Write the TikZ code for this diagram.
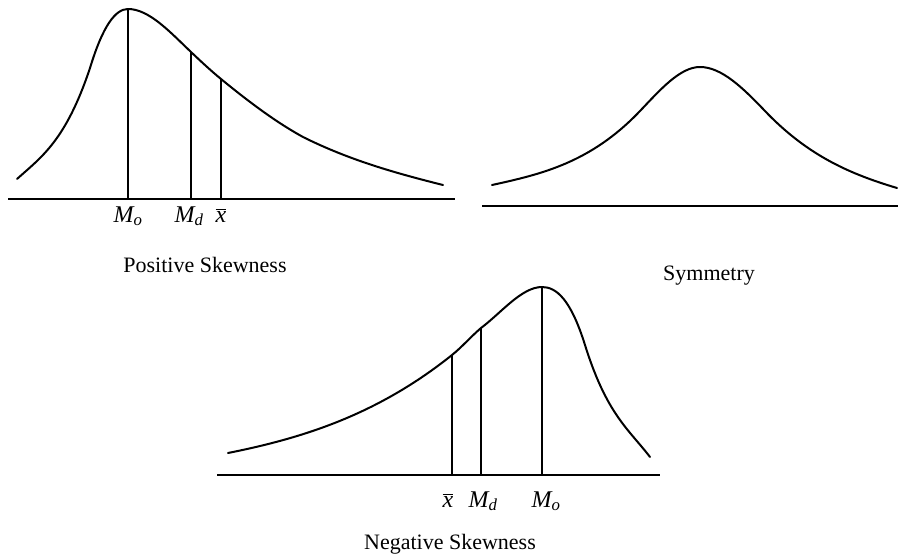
\documentclass[tikz,border=0pt]{standalone}
\usepackage{fontspec}
\setmainfont{Liberation Serif}
\newcommand{\modelbl}{{\itshape M}\textsubscript{\itshape o}}
\newcommand{\medlbl}{{\itshape M}\textsubscript{\itshape d}}
\newcommand{\meanlbl}{$\overline{\mbox{\itshape x}}$}

\begin{document}
\begin{tikzpicture}[x=1pt, y=-1pt,
  curveline/.style={line width=2pt, line cap=round, line join=round},
  axisline/.style={line width=2pt},
  measline/.style={line width=1.8pt},
  lbl/.style={font=\fontsize{24}{28}\selectfont, inner sep=0pt, anchor=base},
  caption/.style={font=\fontsize{22}{26}\selectfont, inner sep=0pt, anchor=base}]

  % Canvas
  \useasboundingbox (0,0) rectangle (898,554);

  % Positive skewness
  \draw[curveline] (17,179) .. controls (41.3,157.1) and (65.7,140.9) .. (90,68)
    .. controls (102.7,26.2) and (115.3,9) .. (128,9)
    .. controls (149,9) and (170,32) .. (191,52)
    .. controls (201,61.5) and (211,70.8) .. (221,79)
    .. controls (248.3,101.4) and (275.7,122) .. (303,137)
    .. controls (349.7,160.3) and (396.3,173.3) .. (443,185);
  \draw[axisline] (8,199) -- (455,199);
  \draw[measline] (128,199) -- (128,9);
  \draw[measline] (191,199) -- (191,52);
  \draw[measline] (221,199) -- (221,79);
  \node[lbl] (pmode) at (128,222) {\modelbl};
  \node[lbl] (pmedian) at (189,222) {\medlbl};
  \node[lbl] (pmean) at (221,222) {\meanlbl};
  \node[caption] (poscap) at (205,272) {Positive Skewness};

  % Symmetry
  \draw[curveline] (492,185) .. controls (541.3,174.2) and (590.7,162.8) .. (640,111)
    .. controls (660,90) and (680,67) .. (700,67)
    .. controls (721.7,67) and (743.3,88.3) .. (765,111)
    .. controls (809,157.2) and (853,174.8) .. (897,188);
  \draw[axisline] (482,206) -- (898,206);
  \node[caption] (symcap) at (709,280) {Symmetry};

  % Negative skewness
  \draw[curveline] (228,453) .. controls (302.7,438.1) and (377.3,414.8) .. (452,355)
    .. controls (461.7,347.3) and (471.3,336.2) .. (481,328)
    .. controls (501.3,312.8) and (521.7,287) .. (542,287)
    .. controls (556.3,287) and (570.7,299.2) .. (585,345)
    .. controls (606.7,414.3) and (628.3,428.8) .. (650,457);
  \draw[axisline] (217,475) -- (660,475);
  \draw[measline] (452,475) -- (452,355);
  \draw[measline] (481,475) -- (481,328);
  \draw[measline] (542,475) -- (542,287);
  \node[lbl] (nmean) at (448,507) {\meanlbl};
  \node[lbl] (nmedian) at (483,507) {\medlbl};
  \node[lbl] (nmode) at (546,507) {\modelbl};
  \node[caption] (negcap) at (450,549) {Negative Skewness};

\end{tikzpicture}
\end{document}
